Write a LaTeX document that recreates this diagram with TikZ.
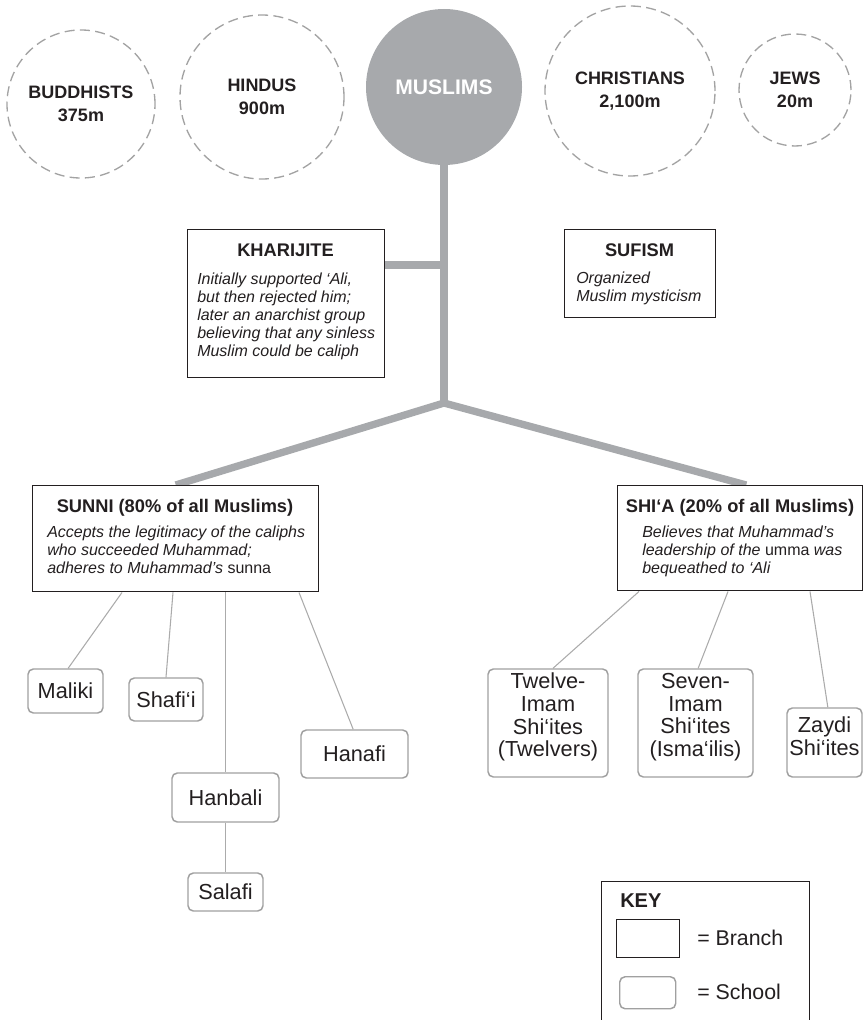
\documentclass[tikz,border=0pt]{standalone}
\usepackage{fontspec}
\setmainfont{Liberation Sans}
\usetikzlibrary{backgrounds}
\definecolor{ink}{HTML}{231F20}
\definecolor{stemgray}{HTML}{A7A9AC}
\definecolor{dashgray}{HTML}{A3A3A3}
\definecolor{thingray}{HTML}{ABABAB}
\definecolor{schoolgray}{HTML}{A0A0A0}
\begin{document}
\begin{tikzpicture}[x=0.75pt,y=-0.75pt,
  religion/.style={circle, draw=dashgray, line width=1pt, dash pattern=on 7.5pt off 4pt, inner sep=0, align=center, text=ink, font=\fontsize{13.5pt}{17pt}\selectfont\bfseries},
  muslimcirc/.style={circle, fill=stemgray, inner sep=0, text=white, font=\fontsize{15.8pt}{17pt}\selectfont\bfseries},
  branchbox/.style={draw=ink, line width=1.1pt, fill=white, inner sep=0, anchor=north west},
  titletext/.style={anchor=base, text=ink, font=\fontsize{13.7pt}{16pt}\selectfont\bfseries, inner sep=0},
  bodytext/.style={anchor=north west, align=left, text=ink, font=\fontsize{12pt}{13.5pt}\selectfont\itshape, inner sep=0},
  schoolbox/.style={draw=schoolgray, line width=1.1pt, rounded corners=4pt, fill=white, inner sep=0, align=center, text=ink, font=\fontsize{16.3pt}{17pt}\selectfont},
  keytext/.style={anchor=base west, text=ink, inner sep=0, font=\fontsize{16pt}{18pt}\selectfont},
  trunk/.style={draw=stemgray, line width=5.5pt},
  twig/.style={draw=thingray, line width=0.8pt}]
\useasboundingbox (0,0) rectangle (867,1020);
\clip (0,0) rectangle (867,1020);

% religions
\node[religion, minimum size=111pt] (budd) at (81,104) {BUDDHISTS\\375m};
\node[religion, minimum size=123pt] (hind) at (262,97) {HINDUS\\900m};
\node[muslimcirc, minimum size=117pt] (muslims) at (444,87) {MUSLIMS};
\node[religion, minimum size=127.5pt] (chris) at (630,91) {CHRISTIANS\\2,100m};
\node[religion, minimum size=84pt] (jews) at (795,90) {JEWS\\20m};

% branches
\node[branchbox, minimum width=147.75pt, minimum height=111pt] (khar) at (187,229) {};
\node[titletext] (khart) at (285.5,256) {KHARIJITE};
\node[bodytext] (kharb) at (197,272.3) {Initially supported ‘Ali,\\but then rejected him;\\later an anarchist group\\believing that any sinless\\Muslim could be caliph};

\node[branchbox, minimum width=113.25pt, minimum height=66pt] (sufi) at (564,229) {};
\node[titletext] (sufit) at (639.5,256) {SUFISM};
\node[bodytext] (sufib) at (576,271.3) {Organized\\Muslim mysticism};

\node[branchbox, minimum width=214.5pt, minimum height=79.5pt] (sunni) at (32,485) {};
\node[titletext] (sunnit) at (175,512) {SUNNI (80\% of all Muslims)};
\node[bodytext] (sunnib) at (47,525.3) {Accepts the legitimacy of the caliphs\\who succeeded Muhammad;\\adheres to Muhammad’s \textup{sunna}};

\node[branchbox, minimum width=183.75pt, minimum height=78.75pt] (shia) at (617,485) {};
\node[titletext] (shiat) at (740,512) {SHI‘A (20\% of all Muslims)};
\node[bodytext] (shiab) at (642,525.3) {Believes that Muhammad’s\\leadership of the \textup{umma} was\\bequeathed to ‘Ali};

% schools
\node[schoolbox, minimum width=56.25pt, minimum height=33pt] (maliki) at (65.5,691) {Maliki};
\node[schoolbox, minimum width=55.5pt, minimum height=32.25pt] (shafii) at (166,699.5) {Shafi‘i};
\node[schoolbox, minimum width=80.25pt, minimum height=36.75pt] (hanbali) at (225.5,797.5) {Hanbali};
\node[schoolbox, minimum width=56.25pt, minimum height=28.5pt] (salafi) at (225.5,892) {Salafi};
\node[schoolbox, minimum width=80.25pt, minimum height=36pt] (hanafi) at (354.5,754) {Hanafi};
\node[schoolbox, minimum width=90pt, minimum height=81pt, text depth=12pt] (twelve) at (548,723) {Twelve-\\Imam\\Shi‘ites\\(Twelvers)};
\node[schoolbox, minimum width=86.25pt, minimum height=81pt, text depth=12pt] (seven) at (695.5,723) {Seven-\\Imam\\Shi‘ites\\(Isma‘ilis)};
\node[schoolbox, minimum width=56.25pt, minimum height=51.75pt, text depth=9.5pt] (zaydi) at (824.5,742.5) {Zaydi\\Shi‘ites};

% key
\node[branchbox, line width=0.9pt, minimum width=156pt, minimum height=120pt] (key) at (601,881) {};
\node[keytext, font=\fontsize{15pt}{18pt}\selectfont\bfseries] (keyt) at (620,907) {KEY};
\node[branchbox, minimum width=47.25pt, minimum height=28.5pt] (keybranch) at (616,919) {};
\node[keytext] (keyb) at (697,945) {= Branch};
\node[schoolbox, anchor=north west, minimum width=42pt, minimum height=24pt] (keyschool) at (619,976) {};
\node[keytext] (keys) at (697,999) {= School};

% connectors
\coordinate (J) at (444,403);
\coordinate (kj) at (444,265);
\begin{scope}[on background layer]
\draw[trunk] (muslims.south) -- (J);
\draw[trunk, line join=miter] (sunni.north) -- (J) -- ([xshift=4.5pt]shia.north);
\draw[trunk] (khar.east |- kj) -- (kj);
\draw[twig] ([xshift=67.5pt]sunni.south west) -- ([xshift=2pt]maliki.north);
\draw[twig] ([xshift=105.75pt]sunni.south west) -- (shafii.north);
\draw[twig] (hanbali.north |- sunni.south) -- (hanbali.north);
\draw[twig] (hanbali.south) -- (salafi.north);
\draw[twig] ([xshift=200.25pt]sunni.south west) -- ([xshift=-1pt]hanafi.north);
\draw[twig] ([xshift=16.5pt]shia.south west) -- ([xshift=3.75pt]twelve.north);
\draw[twig] ([xshift=83.25pt]shia.south west) -- ([xshift=2pt]seven.north);
\draw[twig] ([xshift=144.75pt]shia.south west) -- ([xshift=2.5pt]zaydi.north);
\end{scope}
\end{tikzpicture}
\end{document}
